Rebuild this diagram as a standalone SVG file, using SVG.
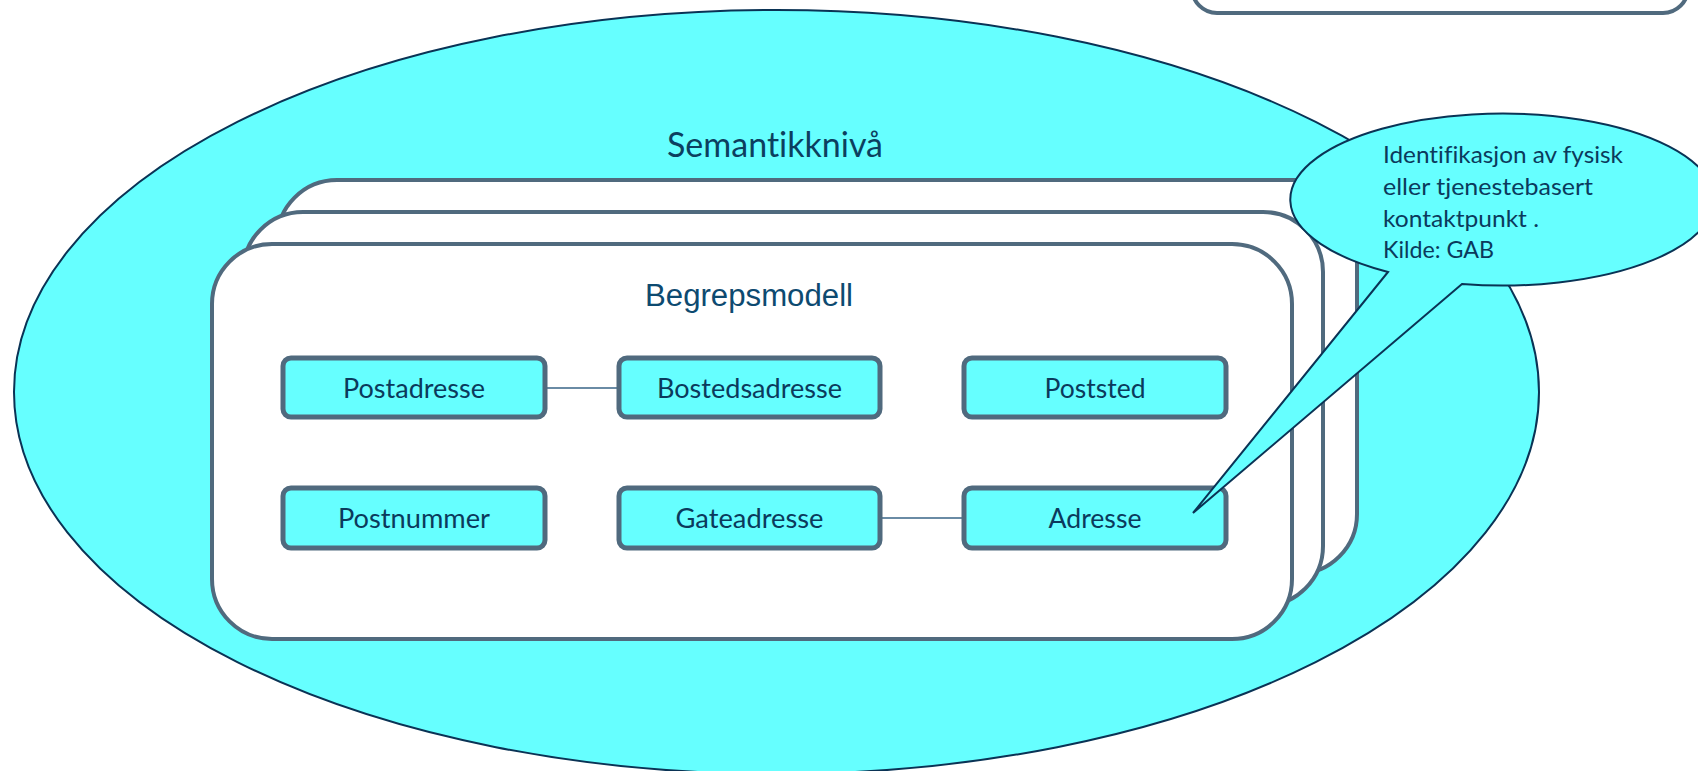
<svg xmlns="http://www.w3.org/2000/svg" width="1698" height="771" viewBox="0 0 1698 771">
<style>
text{font-variant-ligatures:none}
.outer{fill:#66ffff;stroke:#0a3355;stroke-width:2}
.layer{fill:#ffffff;stroke:#506a7e;stroke-width:4}
.node rect{fill:#66ffff;stroke:#506a7e;stroke-width:5}
.node text{font-family:Lato,"Liberation Sans",sans-serif;font-size:26px;fill:#0b3a5c;text-anchor:middle}
.conn{stroke:#6a8ba5;stroke-width:2;fill:none}
.callout{fill:#66ffff;stroke:#0a3355;stroke-width:2;stroke-linejoin:miter}
.ctext{font-family:Lato,"Liberation Sans",sans-serif;font-size:23px;fill:#0b3a5c}
</style>
<rect width="1698" height="771" fill="#ffffff"/>
<g id="topbox">
<rect class="layer" x="1192" y="-60" width="496" height="73" rx="25"/>
</g>
<g id="semantikkniva">
<ellipse class="outer" cx="776.5" cy="392" rx="762.5" ry="382"/>
<text x="775" y="157" font-family="Lato,'Liberation Sans',sans-serif" font-size="34" fill="#0c3f5f" text-anchor="middle" textLength="216" lengthAdjust="spacingAndGlyphs">Semantikknivå</text>
</g>
<g id="begrepsmodell">
<rect class="layer" x="277" y="180" width="1080" height="394" rx="60"/>
<rect class="layer" x="243" y="212" width="1080" height="394" rx="60"/>
<rect class="layer" x="212" y="244" width="1080" height="395" rx="60"/>
<text x="749" y="306" font-family="'Liberation Sans',Arial,sans-serif" font-size="31" fill="#0d4a70" text-anchor="middle" textLength="208" lengthAdjust="spacingAndGlyphs">Begrepsmodell</text>
</g>
<g id="connectors">
<line class="conn" x1="545" y1="388" x2="619" y2="388"/>
<line class="conn" x1="880" y1="518" x2="964" y2="518"/>
</g>
<g id="postadresse" class="node">
<rect x="283" y="358" width="262" height="59" rx="8"/>
<text x="414" y="398" textLength="142" lengthAdjust="spacingAndGlyphs">Postadresse</text>
</g>
<g id="bostedsadresse" class="node">
<rect x="619" y="358" width="261" height="59" rx="8"/>
<text x="749.5" y="398" textLength="185" lengthAdjust="spacingAndGlyphs">Bostedsadresse</text>
</g>
<g id="poststed" class="node">
<rect x="964" y="358" width="262" height="59" rx="8"/>
<text x="1095" y="398" textLength="101" lengthAdjust="spacingAndGlyphs">Poststed</text>
</g>
<g id="postnummer" class="node">
<rect x="283" y="488" width="262" height="60" rx="8"/>
<text x="414" y="528" textLength="152" lengthAdjust="spacingAndGlyphs">Postnummer</text>
</g>
<g id="gateadresse" class="node">
<rect x="619" y="488" width="261" height="60" rx="8"/>
<text x="749.5" y="528" textLength="148" lengthAdjust="spacingAndGlyphs">Gateadresse</text>
</g>
<g id="adresse" class="node">
<rect x="964" y="488" width="262" height="60" rx="8"/>
<text x="1095" y="528" textLength="93" lengthAdjust="spacingAndGlyphs">Adresse</text>
</g>
<g id="callout">
<path class="callout" d="M 1462 284 A 212 86 0 1 0 1388 272 L 1193 513 Z"/>
<text class="ctext" x="1383" y="163" textLength="240" lengthAdjust="spacingAndGlyphs">Identifikasjon av fysisk</text>
<text class="ctext" x="1383" y="195" textLength="210" lengthAdjust="spacingAndGlyphs">eller tjenestebasert</text>
<text class="ctext" x="1383" y="227" textLength="156" lengthAdjust="spacingAndGlyphs">kontaktpunkt .</text>
<text class="ctext" x="1383" y="258" textLength="111" lengthAdjust="spacingAndGlyphs">Kilde: GAB</text>
</g>
</svg>
